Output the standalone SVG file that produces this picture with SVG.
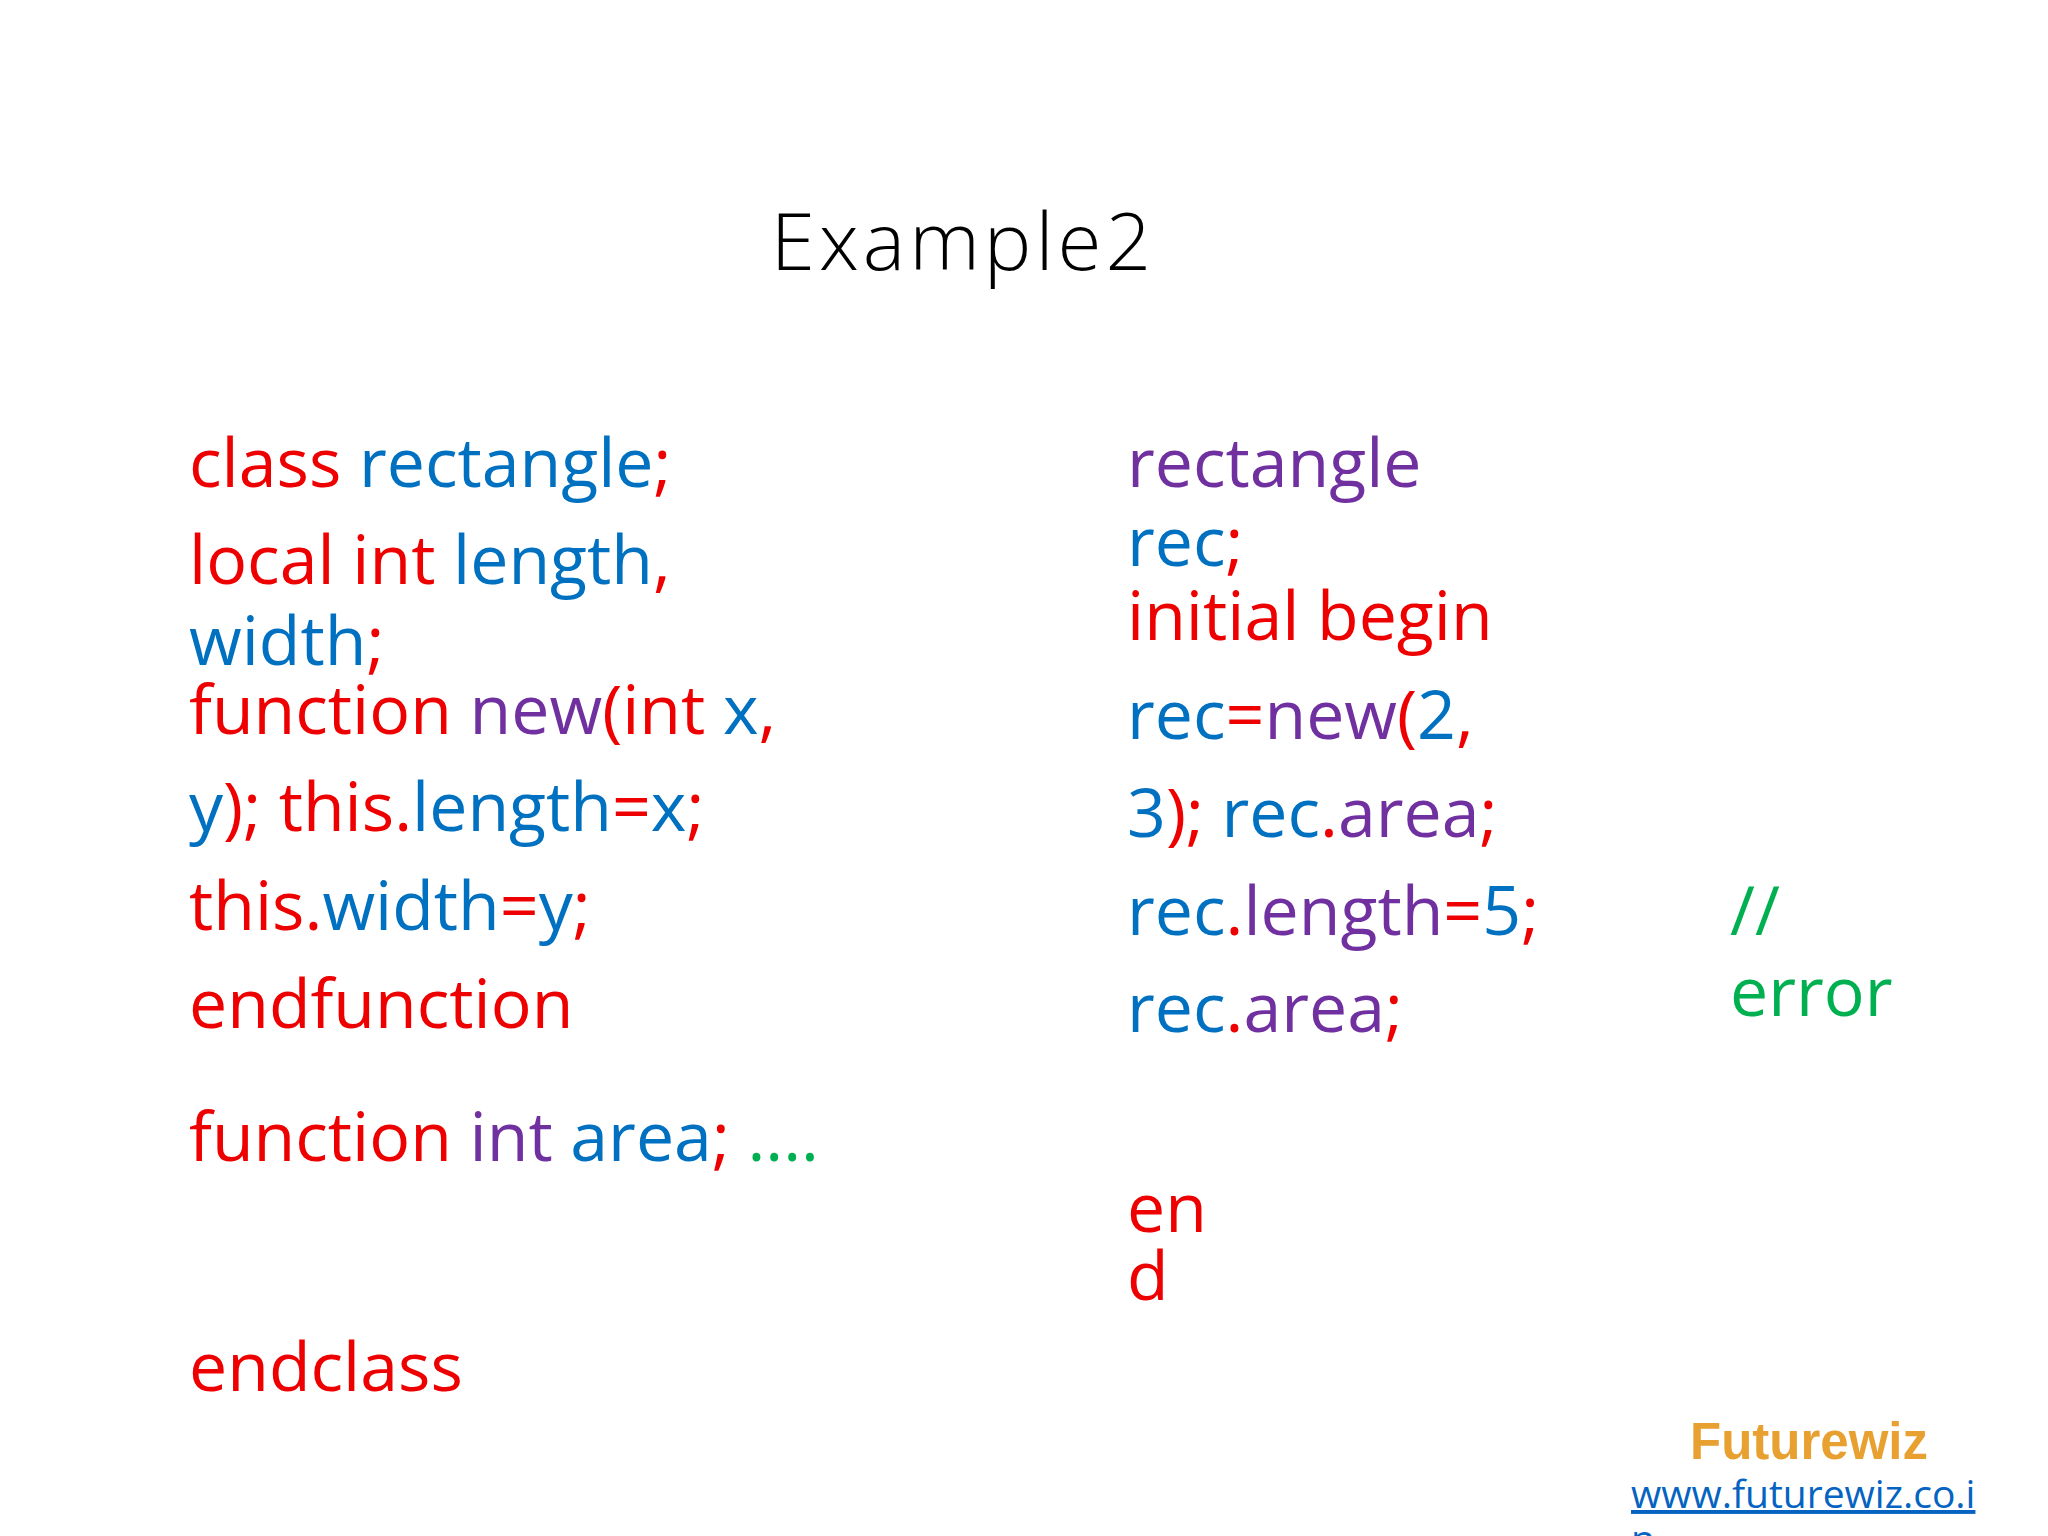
<svg xmlns="http://www.w3.org/2000/svg" width="2048" height="1536" viewBox="0 0 2048 1536">
<style>
text{font-family:"Open Sans","Noto Sans",sans-serif;font-size:68px}
.r{fill:#EE0000}.b{fill:#0070C0}.p{fill:#7030A0}.g{fill:#00B050}
</style>
<rect width="2048" height="1536" fill="#fff"/>
<g id="title"><text x="963" y="270" text-anchor="middle" style="font-size:80px;font-weight:300;letter-spacing:4px" fill="#000">Example2</text></g>
<g id="left">
<text x="189" y="487"><tspan class="r">class </tspan><tspan class="b">rectangle</tspan><tspan class="r">;</tspan></text>
<text x="189" y="584"><tspan class="r">local int </tspan><tspan class="b">length</tspan><tspan class="r">,</tspan></text>
<text x="189" y="665"><tspan class="b">width</tspan><tspan class="r">;</tspan></text>
<text x="189" y="734"><tspan class="r">function </tspan><tspan class="p">new</tspan><tspan class="r">(int </tspan><tspan class="b">x</tspan><tspan class="r">,</tspan></text>
<text x="189" y="831"><tspan class="b">y</tspan><tspan class="r">); this.</tspan><tspan class="b">length</tspan><tspan class="r">=</tspan><tspan class="b">x</tspan><tspan class="r">;</tspan></text>
<text x="189" y="930"><tspan class="r">this.</tspan><tspan class="b">width</tspan><tspan class="r">=</tspan><tspan class="b">y</tspan><tspan class="r">;</tspan></text>
<text x="189" y="1028" class="r">endfunction</text>
<text x="189" y="1161"><tspan class="r">function </tspan><tspan class="p">int </tspan><tspan class="b">area</tspan><tspan class="r">; </tspan><tspan class="g">....</tspan></text>
<text x="189" y="1391" class="r">endclass</text>
</g>
<g id="right">
<text x="1127" y="487" class="p">rectangle</text>
<text x="1127" y="566"><tspan class="b">rec</tspan><tspan class="r">;</tspan></text>
<text x="1127" y="640" class="r">initial begin</text>
<text x="1127" y="739"><tspan class="b">rec</tspan><tspan class="r">=</tspan><tspan class="p">new</tspan><tspan class="r">(</tspan><tspan class="b">2</tspan><tspan class="r">,</tspan></text>
<text x="1127" y="837"><tspan class="b">3</tspan><tspan class="r">); </tspan><tspan class="b">rec</tspan><tspan class="r">.</tspan><tspan class="p">area</tspan><tspan class="r">;</tspan></text>
<text x="1127" y="935"><tspan class="b">rec</tspan><tspan class="r">.</tspan><tspan class="p">length</tspan><tspan class="r">=</tspan><tspan class="b">5</tspan><tspan class="r">;</tspan></text>
<text x="1127" y="1032"><tspan class="b">rec</tspan><tspan class="r">.</tspan><tspan class="p">area</tspan><tspan class="r">;</tspan></text>
<text x="1127" y="1232" class="r">en</text>
<text x="1127" y="1300" class="r">d</text>
<text x="1730" y="935" class="g">//</text>
<text x="1730" y="1016" class="g">error</text>
</g>
<g id="footer">
<text x="1809" y="1459" text-anchor="middle" style="font-family:'Liberation Sans',Arial,sans-serif;font-size:51px;font-weight:bold" fill="#E8A030">Futurewiz</text>
<text x="1631" y="1508" style="font-size:39px;text-decoration:underline" fill="#0563C1">www.futurewiz.co.i</text>
<text x="1631" y="1553" style="font-size:39px;text-decoration:underline" fill="#0563C1">n</text>
</g>
</svg>
